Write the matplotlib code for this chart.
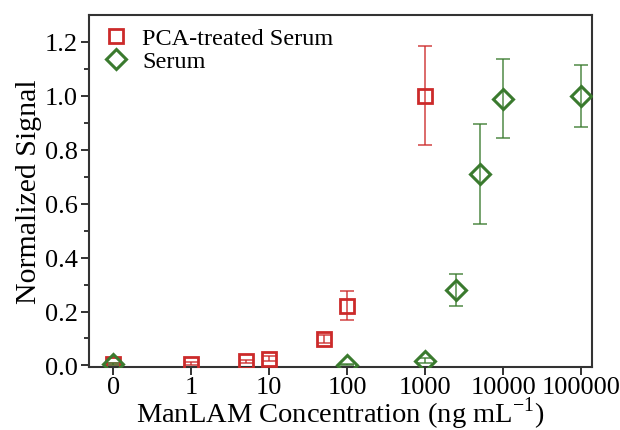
import numpy as np
import matplotlib
matplotlib.use("Agg")
import matplotlib.pyplot as plt

plt.rcParams['font.family'] = ['Liberation Serif', 'DejaVu Serif']
plt.rcParams['mathtext.fontset'] = 'custom'
plt.rcParams['mathtext.rm'] = 'Liberation Serif'

tick_labels = ["0", "1", "10", "100", "1000", "10000", "100000"]
tick_conc = [0.1, 1, 10, 100, 1000, 10000, 100000]  # "0" placed at 0.1

pca_conc = [0.1, 1, 5, 10, 50, 100, 1000]
pca_sig = [0.005, 0.007, 0.015, 0.025, 0.097, 0.222, 1.0]
pca_err = [0.005, 0.006, 0.006, 0.01, 0.015, 0.055, 0.183]

ser_conc = [0.1, 100, 1000, 2500, 5000, 10000, 100000]
ser_sig = [0.005, 0.003, 0.018, 0.28, 0.71, 0.99, 0.998]
ser_err = [0.004, 0.003, 0.01, 0.06, 0.185, 0.147, 0.115]

red = '#cc2a2a'
green = '#3a7a2e'

fig = plt.figure(figsize=(6.2, 4.31), dpi=100)
ax = fig.add_axes([0.1435, 0.146, 0.955 - 0.1435, 0.963 - 0.146])

px = np.log10(pca_conc)
sx = np.log10(ser_conc)

ax.errorbar(px, pca_sig, yerr=pca_err, fmt='none', ecolor=red, elinewidth=1.3,
            capsize=5, capthick=1.3, alpha=0.75, zorder=2)
ax.plot(px, pca_sig, 's', ms=10, mfc='none', mec=red, mew=2, label='PCA-treated Serum', zorder=3)

ax.errorbar(sx, ser_sig, yerr=ser_err, fmt='none', ecolor=green, elinewidth=1.3,
            capsize=5, capthick=1.3, alpha=0.75, zorder=2)
ax.plot(sx, ser_sig, 'D', ms=10.5, mfc='none', mec=green, mew=2.2, label='Serum', zorder=3)

ax.set_xlim(-1.31, 5.14)
ax.set_ylim(-0.006, 1.3)
ax.set_xticks(np.log10(tick_conc))
ax.set_xticklabels(tick_labels)
ax.set_yticks(np.arange(0, 1.21, 0.2))
ax.set_yticklabels([f"{v:.1f}" for v in np.arange(0, 1.21, 0.2)])
ax.set_yticks(np.arange(0.1, 1.3, 0.2), minor=True)

for s in ax.spines.values():
    s.set_linewidth(1.5)
    s.set_color('#333333')
ax.tick_params(axis='both', which='major', direction='out', length=6, width=1.3,
               labelsize=19, colors='#222222', pad=2)
ax.tick_params(axis='x', which='major', pad=0.5)
ax.tick_params(axis='y', which='minor', direction='out', length=3.5, width=1.1)
ax.tick_params(axis='both', labelcolor='black')

fig.text(0.5 * (0.1435 + 0.955), 0.019, 'ManLAM Concentration (ng mL$^{\\mathregular{-1}}$)',
         fontsize=20.5, ha='center', va='baseline')
ax.set_ylabel('Normalized Signal', fontsize=21.5)
ax.yaxis.set_label_coords(-0.093, 0.5)

leg = ax.legend(loc='upper left', frameon=False, fontsize=17.5, handletextpad=0.5,
                borderaxespad=0.1, labelspacing=0.05, handlelength=1.2,
                bbox_to_anchor=(0.0, 1.0))

fig.savefig('out.png', dpi=100)
